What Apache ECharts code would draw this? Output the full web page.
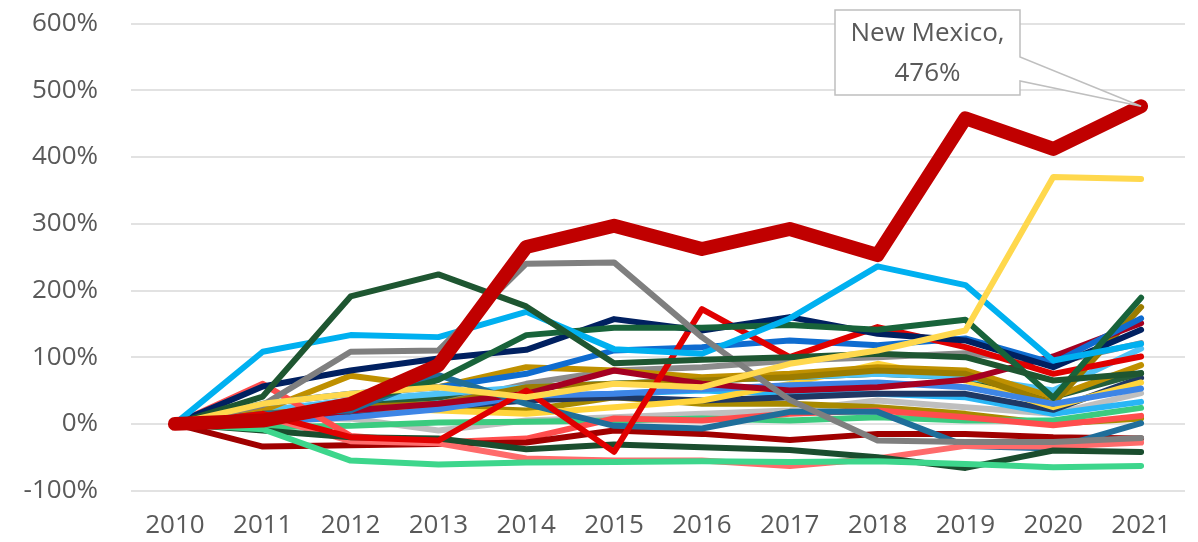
<!DOCTYPE html>
<html>
<head>
<meta charset="utf-8">
<script src="https://cdn.jsdelivr.net/npm/echarts@6/dist/echarts.min.js"></script>
<style>
html,body{margin:0;padding:0;background:#fff;}
#chart{width:1198px;height:542px;}
</style>
</head>
<body>
<div id="chart"></div>
<script>
// ---- categories / ticks ----
const years = ['2010','2011','2012','2013','2014','2015','2016','2017','2018','2019','2020','2021'];
const yTickMin = -100, yTickMax = 600, yTickStep = 100;

// ---- series values (% change since 2010) ----
const lightBlueA   = [0,108,133,130,168,112,105,158,236,208,95,120];
const greenPeak    = [0,41,191,224,176,91,96,100,105,100,65,76];
const greenSpike   = [0,10,30,66,133,144,144,148,141,156,39,189];
const grayPeak     = [0,28,108,110,240,242,130,36,-25,-27,-27,-21];
const navyA        = [0,56,80,98,111,157,140,160,135,125,85,141];
const redSpike     = [0,15,-20,-25,50,-42,172,100,145,115,75,101];
const mintLow      = [0,-8,-55,-61,-58,-57,-56,-57,-56,-60,-65,-63];
const mintMid      = [0,-5,-3,2,3,5,8,5,10,5,5,24];
const salmonLow    = [0,12,-26,-29,-52,-55,-55,-63,-52,-33,-34,-28];
const coral        = [0,60,-18,-28,-22,8,5,15,20,10,-2,12];
const darkRedLow   = [0,-34,-32,-30,-28,-10,-15,-24,-15,-15,-20,-22];
const darkGreenLow = [0,-10,-20,-22,-38,-31,-35,-39,-50,-66,-40,-42];
const teal         = [0,15,20,73,30,-3,-7,18,18,-33,-37,1];
const brightBlue   = [0,3,10,22,42,45,52,58,62,55,30,53];
const goldA        = [0,20,72,55,85,80,70,75,85,80,40,88];
const goldB        = [0,10,30,25,20,40,30,30,25,15,0,8];
const goldC        = [0,15,25,30,55,60,65,70,80,75,30,175];
const darkRedB     = [0,5,20,30,45,80,60,50,55,66,101,151];
const lightGray    = [0,5,8,-10,5,10,15,20,35,25,15,46];
const grayMid      = [0,10,20,30,60,80,85,95,100,106,91,121];
const lightBlueB   = [0,20,35,45,55,60,65,70,75,70,50,113];
const lightBlueC   = [0,15,30,35,40,45,50,45,45,40,15,33];
const navyB        = [0,10,15,25,35,40,35,40,45,45,21,69];
const darkGreenC   = [0,20,30,40,55,60,65,70,75,70,40,76];
const blueB        = [0,30,45,55,75,110,115,125,118,128,91,158];
const yellowB      = [0,20,25,20,15,25,35,60,90,65,25,62];
const yellowHigh   = [0,30,45,55,40,60,55,90,110,140,370,367];
const newMexico    = [0,5,30,88,265,297,262,292,253,458,412,476];

const highlightName = 'New Mexico';
const highlightValue = newMexico[newMexico.length - 1];

// ---- series list (drawing order: first = bottom) ----
const seriesList = [
  ['lightGray', lightGray, '#BFBFBF'],
  ['goldB', goldB, '#A88A00'],
  ['mintMid', mintMid, '#3CCB7F'],
  ['lightBlueC', lightBlueC, '#29B6F6'],
  ['navyB', navyB, '#1F3864'],
  ['yellowB', yellowB, '#FFD43B'],
  ['darkGreenC', darkGreenC, '#255E3A'],
  ['grayMid', grayMid, '#8C8C8C'],
  ['lightBlueB', lightBlueB, '#4FC3F7'],
  ['goldA', goldA, '#BF9000'],
  ['goldC', goldC, '#9C7C00'],
  ['brightBlue', brightBlue, '#3D85E6'],
  ['darkRedB', darkRedB, '#A50021'],
  ['blueB', blueB, '#0F6CD0'],
  ['coral', coral, '#FF4D4D'],
  ['darkRedLow', darkRedLow, '#A00000'],
  ['teal', teal, '#1F6E9A'],
  ['salmonLow', salmonLow, '#FF6B6B'],
  ['darkGreenLow', darkGreenLow, '#1A4D2E'],
  ['mintLow', mintLow, '#3DD68C'],
  ['redSpike', redSpike, '#E00000'],
  ['navyA', navyA, '#002060'],
  ['greenSpike', greenSpike, '#18633A'],
  ['lightBlueA', lightBlueA, '#00B0F0'],
  ['grayPeak', grayPeak, '#7F7F7F'],
  ['greenPeak', greenPeak, '#1E5631'],
  ['yellowHigh', yellowHigh, '#FFD84D'],
  [highlightName, newMexico, '#C00000']
];

const FONT = '"Open Sans", "Liberation Sans", sans-serif';

const chart = echarts.init(document.getElementById('chart'), null, {renderer: 'canvas'});

const option = {
  animation: false,
  backgroundColor: '#ffffff',
  grid: {left: 131, right: 13, top: 23.5, bottom: 51.4, containLabel: false},
  xAxis: {
    type: 'category',
    data: years,
    boundaryGap: true,
    axisLine: {show: false},
    axisTick: {show: false},
    splitLine: {show: false},
    axisLabel: {color: '#595959', fontSize: 26, fontFamily: FONT, margin: 22}
  },
  yAxis: {
    type: 'value',
    min: yTickMin,
    max: yTickMax,
    interval: yTickStep,
    axisLine: {show: false},
    axisTick: {show: false},
    splitLine: {lineStyle: {color: '#D9D9D9', width: 1.5}},
    axisLabel: {color: '#595959', fontSize: 26, fontFamily: FONT, margin: 33, formatter: '{value}%'}
  },
  series: seriesList.map(([name, data, color]) => ({
    name: name,
    type: 'line',
    data: data,
    symbol: 'none',
    smooth: false,
    silent: true,
    lineStyle: {
      color: color,
      width: name === highlightName ? 14 : 6,
      cap: 'round',
      join: 'round'
    },
    z: 2
  }))
};

chart.setOption(option);

// callout for New Mexico
const pt = chart.convertToPixel({xAxisIndex: 0, yAxisIndex: 0}, [years[years.length - 1], highlightValue]);
const bx0 = 835, by0 = 10, bx1 = 1020, by1 = 95;
chart.setOption({
  graphic: [
    {
      type: 'polygon',
      z: 100,
      shape: {points: [[bx0, by0], [bx1, by0], [bx1, 57], [pt[0], pt[1]], [bx1, 81], [bx1, by1], [bx0, by1]]},
      style: {fill: '#ffffff', stroke: '#BFBFBF', lineWidth: 1.5}
    },
    {
      type: 'text',
      z: 101,
      x: (bx0 + bx1) / 2,
      y: (by0 + by1) / 2 + 1,
      style: {
        text: highlightName + ',\n' + highlightValue + '%',
        fill: '#595959',
        font: '26px ' + FONT,
        align: 'center',
        verticalAlign: 'middle',
        lineHeight: 40
      }
    }
  ]
});
</script>
</body>
</html>
